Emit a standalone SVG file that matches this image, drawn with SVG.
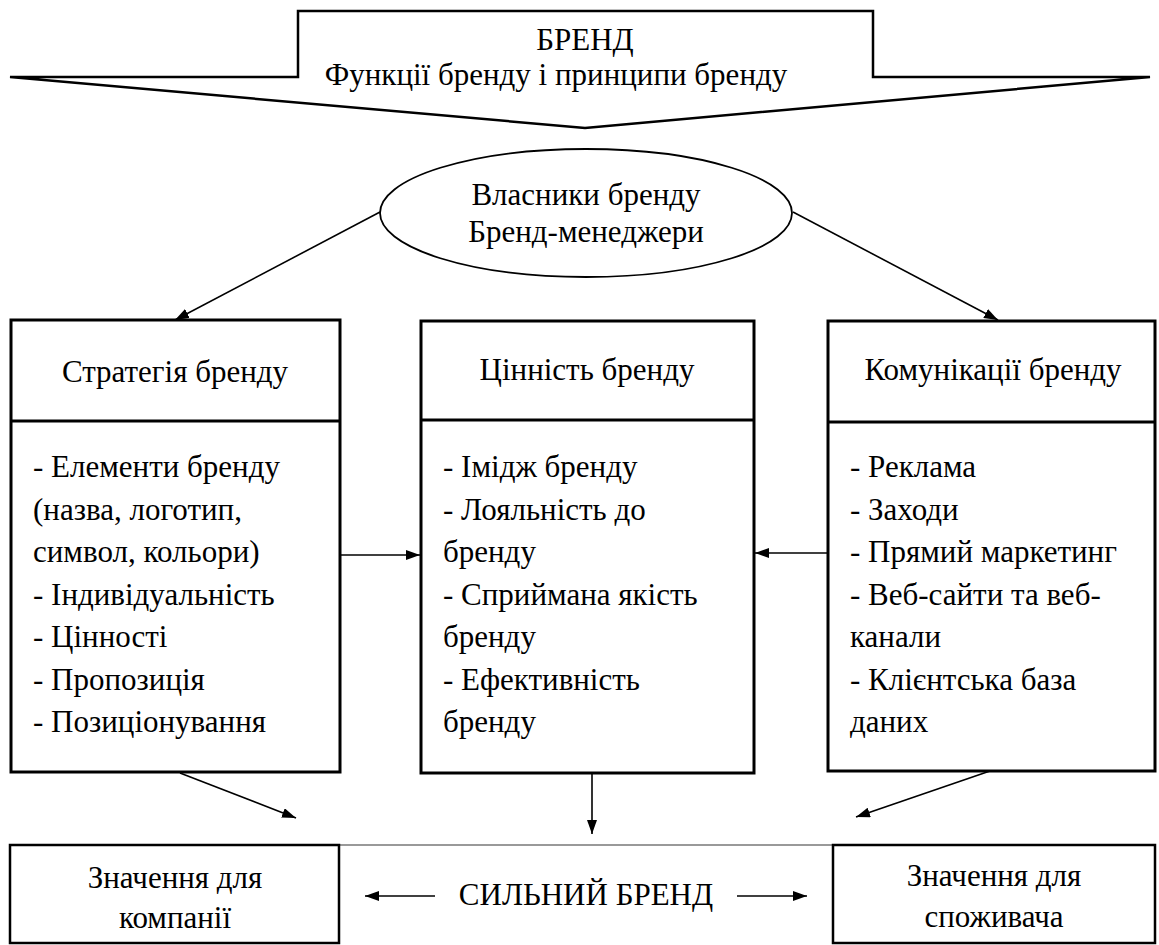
<svg xmlns="http://www.w3.org/2000/svg" width="1159" height="945" viewBox="0 0 1159 945" font-family="'Liberation Serif', 'Times New Roman', 'DejaVu Serif', serif">
<style>
text{font-family:'Liberation Serif','Times New Roman','DejaVu Serif',serif;font-size:31px;fill:#000}
.c{text-anchor:middle}
.box{fill:#fff;stroke:#000;stroke-width:3}
.bx{fill:#fff;stroke:#000;stroke-width:2.5}
.ln{stroke:#000;stroke-width:1.6;fill:none}
</style>
<defs>
<marker id="ah" viewBox="0 0 14 10" refX="14" refY="5" markerWidth="14" markerHeight="10" markerUnits="userSpaceOnUse" orient="auto">
<path d="M0,0 L14,5 L0,10 z" fill="#000"/>
</marker>
</defs>
<rect width="1159" height="945" fill="#fff"/>
<g id="brand">
<polygon points="298,11 873,11 873,77 1150,77 585,128 10,77 298,77" fill="#fff" stroke="#000" stroke-width="2.5"/>
<text class="c" x="585" y="50">БРЕНД</text>
<text class="c" x="556" y="85">Функції бренду і принципи бренду</text>
</g>
<g id="owners">
<ellipse cx="586" cy="213" rx="206" ry="64" fill="#fff" stroke="#000" stroke-width="1.8"/>
<text class="c" x="586" y="205">Власники бренду</text>
<text class="c" x="586" y="242">Бренд-менеджери</text>
</g>
<g id="strategy">
<rect class="box" x="11" y="320" width="329" height="452"/>
<line x1="11" y1="421" x2="340" y2="421" stroke="#000" stroke-width="3"/>
<text class="c" x="175" y="382">Стратегія бренду</text>
<text x="33" y="477">- Елементи бренду</text>
<text x="33" y="519.5">(назва, логотип,</text>
<text x="33" y="562">символ, кольори)</text>
<text x="33" y="604.5">- Індивідуальність</text>
<text x="33" y="647">- Цінності</text>
<text x="33" y="689.5">- Пропозиція</text>
<text x="33" y="732">- Позиціонування</text>
</g>
<g id="value">
<rect class="box" x="421" y="321" width="333" height="452"/>
<line x1="421" y1="420" x2="754" y2="420" stroke="#000" stroke-width="3"/>
<text class="c" x="587" y="380">Цінність бренду</text>
<text x="443" y="477">- Імідж бренду</text>
<text x="443" y="519.5">- Лояльність до</text>
<text x="443" y="562">бренду</text>
<text x="443" y="604.5">- Сприймана якість</text>
<text x="443" y="647">бренду</text>
<text x="443" y="689.5">- Ефективність</text>
<text x="443" y="732">бренду</text>
</g>
<g id="communications">
<rect class="box" x="828" y="321" width="327" height="450"/>
<line x1="828" y1="422" x2="1155" y2="422" stroke="#000" stroke-width="3"/>
<text class="c" x="993" y="380">Комунікації бренду</text>
<text x="850" y="477">- Реклама</text>
<text x="850" y="519.5">- Заходи</text>
<text x="850" y="562">- Прямий маркетинг</text>
<text x="850" y="604.5">- Веб-сайти та веб-</text>
<text x="850" y="647">канали</text>
<text x="850" y="689.5">- Клієнтська база</text>
<text x="850" y="732">даних</text>
</g>
<g id="strong-brand">
<line x1="339" y1="845" x2="833" y2="845" stroke="#777" stroke-width="1.5"/>
<text class="c" x="586" y="905">СИЛЬНИЙ БРЕНД</text>
</g>
<g id="company-value">
<rect class="bx" x="10" y="845" width="329" height="98"/>
<text class="c" x="175" y="888">Значення для</text>
<text class="c" x="175" y="928">компанії</text>
</g>
<g id="consumer-value">
<rect class="bx" x="833" y="845" width="322" height="98"/>
<text class="c" x="994" y="886">Значення для</text>
<text class="c" x="994" y="927">споживача</text>
</g>
<g id="connectors">
<line class="ln" x1="380" y1="212" x2="175" y2="320" marker-end="url(#ah)"/>
<line class="ln" x1="793" y1="212" x2="998" y2="320" marker-end="url(#ah)"/>
<line class="ln" x1="340" y1="555" x2="420" y2="555" marker-end="url(#ah)"/>
<line class="ln" x1="828" y1="553" x2="755" y2="553" marker-end="url(#ah)"/>
<line class="ln" x1="592" y1="773" x2="592" y2="834" marker-end="url(#ah)"/>
<line class="ln" x1="180" y1="773" x2="296" y2="818" marker-end="url(#ah)"/>
<line class="ln" x1="990" y1="771" x2="856" y2="817" marker-end="url(#ah)"/>
<line class="ln" x1="435" y1="896" x2="365" y2="896" marker-end="url(#ah)"/>
<line class="ln" x1="737" y1="896" x2="807" y2="896" marker-end="url(#ah)"/>
</g>
</svg>
